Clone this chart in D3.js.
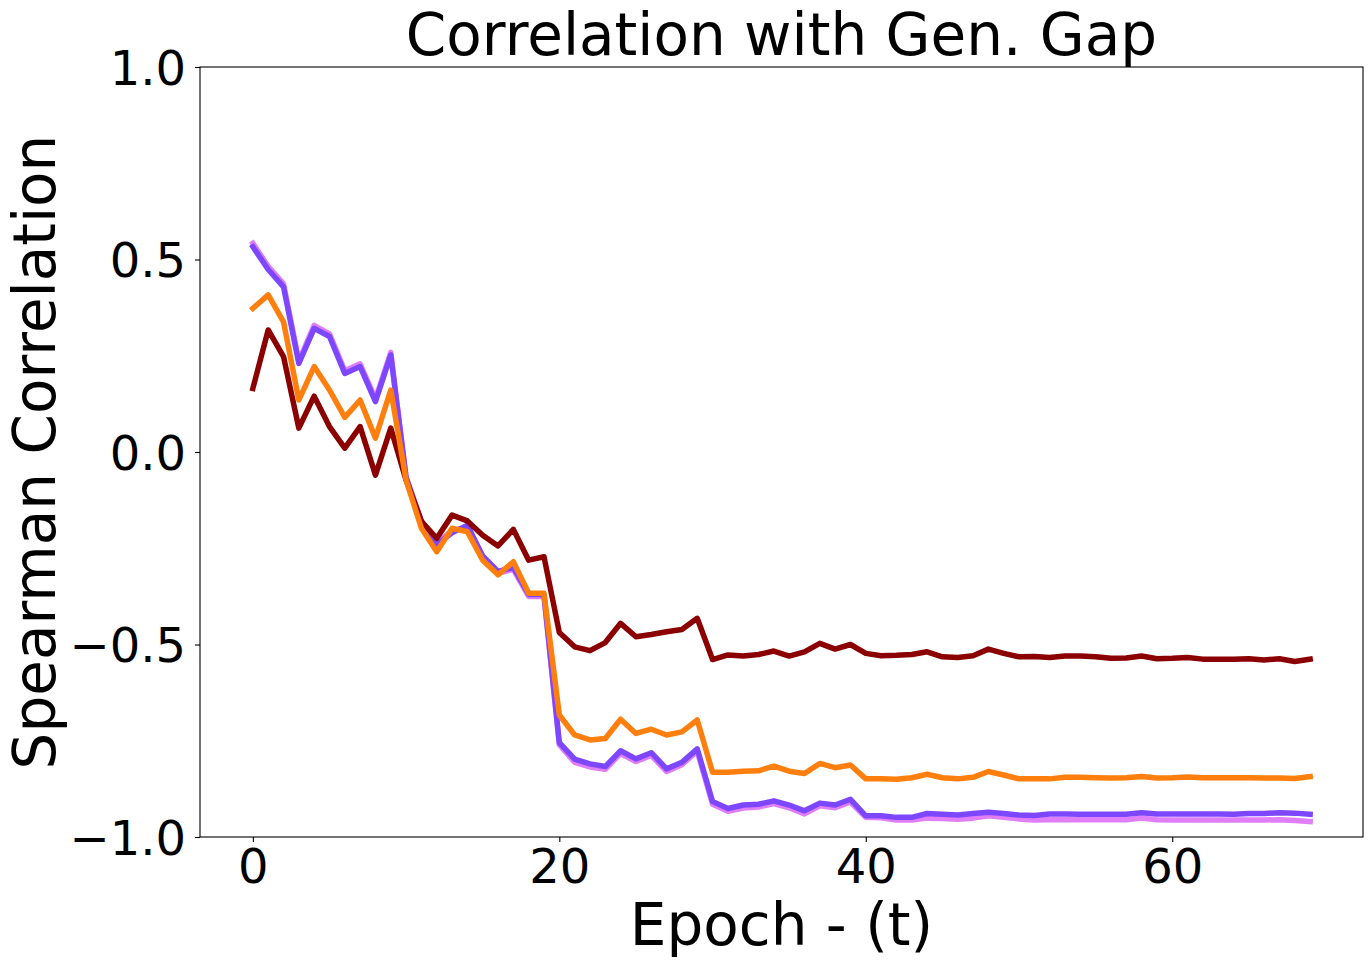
<!DOCTYPE html>
<html>
<head>
<meta charset="utf-8">
<script src="https://cdn.jsdelivr.net/npm/d3@7"></script>
<style>
  html, body { margin: 0; padding: 0; background: #fff; }
  svg { display: block; font-family: 'DejaVu Sans', sans-serif; }
</style>
</head>
<body>
<svg width="1372" height="967" viewBox="0 0 1372 967"></svg>
<script>
// input data, one value per epoch (0 - 69)
const darkRedSeries = [
  0.165, 0.317, 0.248, 0.062, 0.145, 0.066, 0.010, 0.066, -0.060, 0.062,
  -0.073, -0.180, -0.224, -0.164, -0.179, -0.216, -0.244, -0.201, -0.281, -0.272,
  -0.469, -0.506, -0.516, -0.495, -0.445, -0.480, -0.474, -0.467, -0.461, -0.432,
  -0.539, -0.527, -0.530, -0.526, -0.517, -0.530, -0.519, -0.497, -0.512, -0.500,
  -0.523, -0.529, -0.528, -0.526, -0.519, -0.532, -0.534, -0.529, -0.512, -0.523,
  -0.532, -0.531, -0.534, -0.530, -0.530, -0.532, -0.536, -0.535, -0.530, -0.537,
  -0.536, -0.534, -0.538, -0.538, -0.538, -0.537, -0.540, -0.537, -0.544, -0.538,
];
const orangeSeries = [
  0.373, 0.408, 0.338, 0.135, 0.222, 0.161, 0.090, 0.135, 0.036, 0.161,
  -0.073, -0.198, -0.259, -0.198, -0.207, -0.281, -0.319, -0.285, -0.367, -0.367,
  -0.683, -0.735, -0.748, -0.744, -0.694, -0.731, -0.720, -0.735, -0.727, -0.696,
  -0.832, -0.832, -0.829, -0.828, -0.816, -0.829, -0.835, -0.809, -0.820, -0.813,
  -0.849, -0.849, -0.850, -0.846, -0.837, -0.846, -0.849, -0.845, -0.830, -0.839,
  -0.849, -0.849, -0.849, -0.845, -0.845, -0.846, -0.847, -0.846, -0.843, -0.847,
  -0.846, -0.844, -0.846, -0.846, -0.846, -0.846, -0.847, -0.847, -0.848, -0.843,
];
const violetSeries = [
  0.533, 0.474, 0.429, 0.230, 0.321, 0.300, 0.204, 0.222, 0.131, 0.252,
  -0.065, -0.180, -0.240, -0.210, -0.190, -0.270, -0.310, -0.300, -0.370, -0.370,
  -0.755, -0.798, -0.810, -0.817, -0.776, -0.797, -0.781, -0.823, -0.806, -0.771,
  -0.908, -0.926, -0.917, -0.915, -0.906, -0.917, -0.932, -0.912, -0.917, -0.902,
  -0.945, -0.945, -0.949, -0.949, -0.939, -0.941, -0.943, -0.939, -0.936, -0.939,
  -0.943, -0.944, -0.940, -0.940, -0.941, -0.941, -0.941, -0.941, -0.937, -0.940,
  -0.940, -0.940, -0.940, -0.940, -0.941, -0.939, -0.939, -0.937, -0.938, -0.941,
];
const pinkSeries = [
  0.542, 0.482, 0.437, 0.236, 0.329, 0.307, 0.211, 0.229, 0.138, 0.259,
  -0.070, -0.185, -0.235, -0.205, -0.195, -0.275, -0.315, -0.305, -0.375, -0.375,
  -0.760, -0.806, -0.818, -0.824, -0.783, -0.804, -0.788, -0.830, -0.812, -0.777,
  -0.915, -0.933, -0.925, -0.922, -0.913, -0.924, -0.940, -0.919, -0.924, -0.909,
  -0.949, -0.950, -0.956, -0.956, -0.951, -0.952, -0.954, -0.951, -0.945, -0.949,
  -0.953, -0.956, -0.955, -0.955, -0.955, -0.955, -0.955, -0.955, -0.951, -0.955,
  -0.956, -0.956, -0.956, -0.956, -0.956, -0.956, -0.956, -0.955, -0.957, -0.960,
];
const xTicks = [0, 20, 40, 60];
const yTicks = [-1, -0.5, 0, 0.5, 1];

// series in drawing order (later ones on top)
const series = [
  { values: pinkSeries, color: '#e07ef7' },
  { values: violetSeries, color: '#7d46ff' },
  { values: darkRedSeries, color: '#8b0000' },
  { values: orangeSeries, color: '#ff7f0e' },
];

const svg = d3.select('svg');

// plot area, matching the axes box of the figure
const margin = { top: 67, right: 9, bottom: 130, left: 200 };
const width = 1372 - margin.left - margin.right;
const height = 967 - margin.top - margin.bottom;

const group = svg
  .append('g')
  .attr('transform', `translate(${margin.left} ${margin.top})`);

// x domain padded by 5% of the data range, like matplotlib
const xMax = darkRedSeries.length - 1;
const pad = xMax * 0.05;
const xScale = d3.scaleLinear().domain([-pad, xMax + pad]).range([0, width]);
const yScale = d3.scaleLinear().domain([-1, 1]).range([height, 0]);

// axes
const xAxis = d3
  .axisBottom(xScale)
  .tickValues(xTicks)
  .tickFormat(d3.format('d'))
  .tickSize(5)
  .tickPadding(7);
const yAxis = d3
  .axisLeft(yScale)
  .tickValues(yTicks)
  .tickFormat(d3.format('.1f'))
  .tickSize(5)
  .tickPadding(9);

const gx = group
  .append('g')
  .attr('transform', `translate(0 ${height})`)
  .call(xAxis);
const gy = group.append('g').call(yAxis);

[gx, gy].forEach(g => {
  g.select('.domain').remove();
  g.selectAll('line').attr('stroke', '#000').attr('stroke-width', 1.1);
  g.selectAll('text')
    .attr('fill', '#000')
    .attr('font-size', 48)
    .attr('font-family', 'DejaVu Sans');
});
gy.selectAll('text').attr('dy', '0.36em');

// lines
const line = d3
  .line()
  .x((d, i) => xScale(i))
  .y(d => yScale(d));

group
  .append('g')
  .selectAll('path')
  .data(series)
  .enter()
  .append('path')
  .attr('d', d => line(d.values))
  .attr('fill', 'none')
  .attr('stroke', d => d.color)
  .attr('stroke-width', 5.5)
  .attr('stroke-linejoin', 'round')
  .attr('stroke-linecap', 'square');

// axes frame
group
  .append('rect')
  .attr('width', width)
  .attr('height', height)
  .attr('fill', 'none')
  .attr('stroke', '#000')
  .attr('stroke-width', 1.1);

// title and axis labels
group
  .append('text')
  .attr('x', width / 2)
  .attr('y', -12)
  .attr('text-anchor', 'middle')
  .attr('font-size', 58)
  .text('Correlation with Gen. Gap');

group
  .append('text')
  .attr('x', width / 2)
  .attr('y', height + 108)
  .attr('text-anchor', 'middle')
  .attr('font-size', 58)
  .text('Epoch - (t)');

group
  .append('text')
  .attr('transform', `translate(${-145} ${height / 2}) rotate(-90)`)
  .attr('text-anchor', 'middle')
  .attr('font-size', 58)
  .text('Spearman Correlation');
</script>
</body>
</html>
